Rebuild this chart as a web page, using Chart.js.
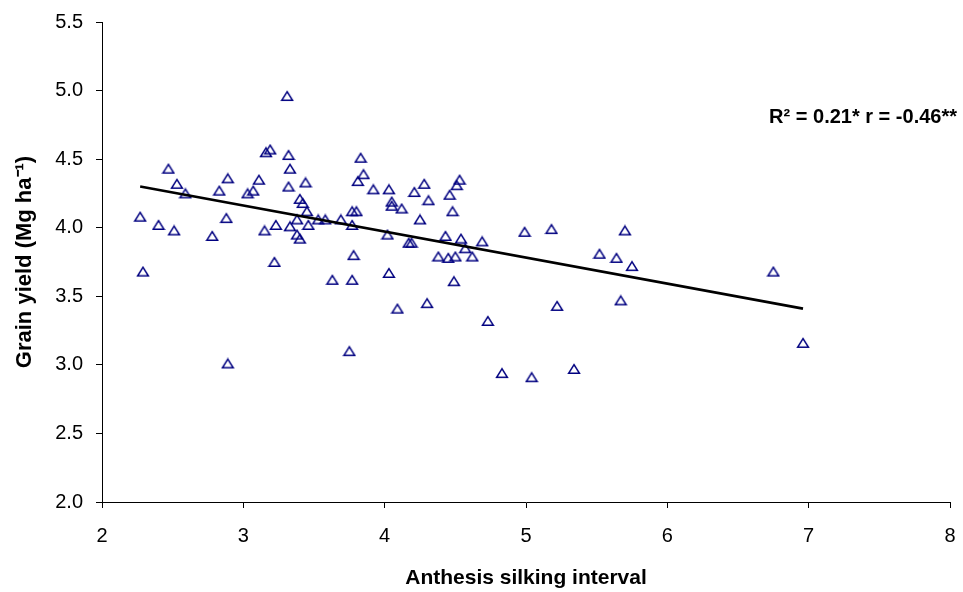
<!DOCTYPE html>
<html>
<head>
<meta charset="utf-8">
<script src="https://cdn.jsdelivr.net/npm/chart.js@4.4.1/dist/chart.umd.min.js"></script>
<style>
  html, body { margin: 0; padding: 0; background: #fff; }
  #wrap { width: 963px; height: 592px; }
</style>
</head>
<body>
<div id="wrap"><canvas id="chart" width="963" height="592"></canvas></div>
<script>
// Anthesis silking interval (x) vs grain yield (y)
const aslInterval = [
  3.31, 3.16, 3.19, 3.32, 2.47, 3.33, 2.89, 3.11, 3.44, 2.53,
  3.32, 2.83, 3.03, 3.07, 2.59, 3.40, 3.42, 3.45, 2.27, 2.88,
  3.38, 3.53, 3.58, 3.69, 2.40, 3.23, 3.33, 3.46, 2.51, 3.15,
  2.78, 3.38, 3.40, 3.22, 2.29, 3.63, 2.89,
  3.83, 3.85, 3.81, 3.92, 4.03, 4.21, 4.28, 4.51, 4.53, 4.46,
  4.31, 4.05, 4.05, 4.12, 4.48, 3.77, 3.80, 3.77, 4.25, 4.02,
  4.43, 4.54, 4.69, 4.17, 4.19, 4.57, 4.99, 5.18, 3.78, 4.38,
  4.45, 4.50, 4.62, 3.77, 4.03, 4.49, 4.09, 4.30, 4.73, 5.22,
  3.75, 4.83, 5.04,
  5.70, 5.52, 5.64, 5.75, 6.75, 5.67, 5.34, 6.96
]
const grainYield = [
  4.96, 4.55, 4.57, 4.53, 4.43, 4.43, 4.36, 4.35, 4.33, 4.32,
  4.30, 4.27, 4.25, 4.27, 4.25, 4.21, 4.18, 4.12, 4.08, 4.07,
  4.06, 4.06, 4.06, 4.06, 4.02, 4.02, 4.01, 4.02, 3.98, 3.98,
  3.94, 3.95, 3.92, 3.75, 3.68, 3.62, 3.01,
  4.51, 4.39, 4.34, 4.28, 4.28, 4.26, 4.32, 4.31, 4.35, 4.24,
  4.20, 4.19, 4.16, 4.14, 4.12, 4.12, 4.12, 4.02, 4.06, 3.95,
  3.94, 3.92, 3.90, 3.89, 3.89, 3.85, 3.97, 3.99, 3.80, 3.79,
  3.78, 3.79, 3.79, 3.62, 3.67, 3.61, 3.41, 3.45, 3.32, 3.43,
  3.10, 2.94, 2.91,
  3.98, 3.81, 3.78, 3.72, 3.68, 3.47, 2.97, 3.16
]

// fitted trendline end points
const trendX = [2.27, 6.96]
const trendY = [4.30, 3.41]

const xRange = [2, 8]
const yRange = [2.0, 5.5]
const statsLabel = 'R\u00b2 = 0.21* r = -0.46**'

const FONT = '"Liberation Sans", Arial, Helvetica, sans-serif'

// open triangle, centred on its bounding box like the original markers
function triangleMarker() {
  const c = document.createElement('canvas')
  c.width = 14
  c.height = 12
  const g = c.getContext('2d')
  g.strokeStyle = '#000080'
  g.lineWidth = 1.5
  g.beginPath()
  g.moveTo(7, 1.6)
  g.lineTo(12.4, 10.3)
  g.lineTo(1.6, 10.3)
  g.closePath()
  g.stroke()
  return c
}

const statsText = {
  id: 'statsText',
  afterDraw(chart) {
    const ctx = chart.ctx
    ctx.save()
    ctx.font = 'bold 20px ' + FONT
    ctx.fillStyle = '#000'
    ctx.textAlign = 'right'
    ctx.textBaseline = 'alphabetic'
    ctx.fillText(statsLabel, 957, 123)
    ctx.restore()
  }
}

const marker = triangleMarker()

new Chart(document.getElementById('chart'), {
  type: 'scatter',
  data: {
    datasets: [
      {
        label: 'Trend',
        type: 'line',
        data: trendX.map((x, i) => ({ x, y: trendY[i] })),
        borderColor: '#000',
        borderWidth: 2.6,
        pointRadius: 0,
        fill: false,
        order: 0,
      },
      {
        label: 'Grain yield',
        data: aslInterval.map((x, i) => ({ x, y: grainYield[i] })),
        pointStyle: marker,
        pointRadius: 6,
        order: 1,
      },
    ],
  },
  options: {
    responsive: false,
    animation: false,
    layout: { padding: { top: 22, right: 13, left: 0, bottom: 0 } },
    plugins: {
      legend: { display: false },
      tooltip: { enabled: false },
    },
    scales: {
      x: {
        type: 'linear',
        min: xRange[0],
        max: xRange[1],
        ticks: {
          stepSize: 1,
          color: '#000',
          padding: 16,
          font: { family: FONT, size: 20 },
        },
        grid: { drawOnChartArea: false, drawTicks: true, tickLength: 6, color: '#000' },
        border: { color: '#000', width: 1 },
        title: {
          display: true,
          text: 'Anthesis silking interval',
          color: '#000',
          font: { family: FONT, size: 21, weight: 'bold' },
          padding: { top: 0, bottom: 1 },
        },
        afterFit(scale) {
          scale.height = 90
          scale.paddingLeft = 0
          scale.paddingRight = 0
        },
      },
      y: {
        min: yRange[0],
        max: yRange[1],
        ticks: {
          stepSize: 0.5,
          color: '#000',
          padding: 13,
          font: { family: FONT, size: 20 },
          callback: (v) => Number(v).toFixed(1),
        },
        grid: { drawOnChartArea: false, drawTicks: true, tickLength: 6, color: '#000' },
        border: { color: '#000', width: 1 },
        title: {
          display: true,
          text: 'Grain yield (Mg ha\u207b\u00b9)',
          color: '#000',
          font: { family: FONT, size: 22, weight: 'bold' },
          padding: { top: 12, bottom: 0 },
        },
        afterFit(scale) {
          scale.width = 102
          scale.paddingTop = 0
          scale.paddingBottom = 0
        },
      },
    },
  },
  plugins: [statsText],
})
</script>
</body>
</html>
